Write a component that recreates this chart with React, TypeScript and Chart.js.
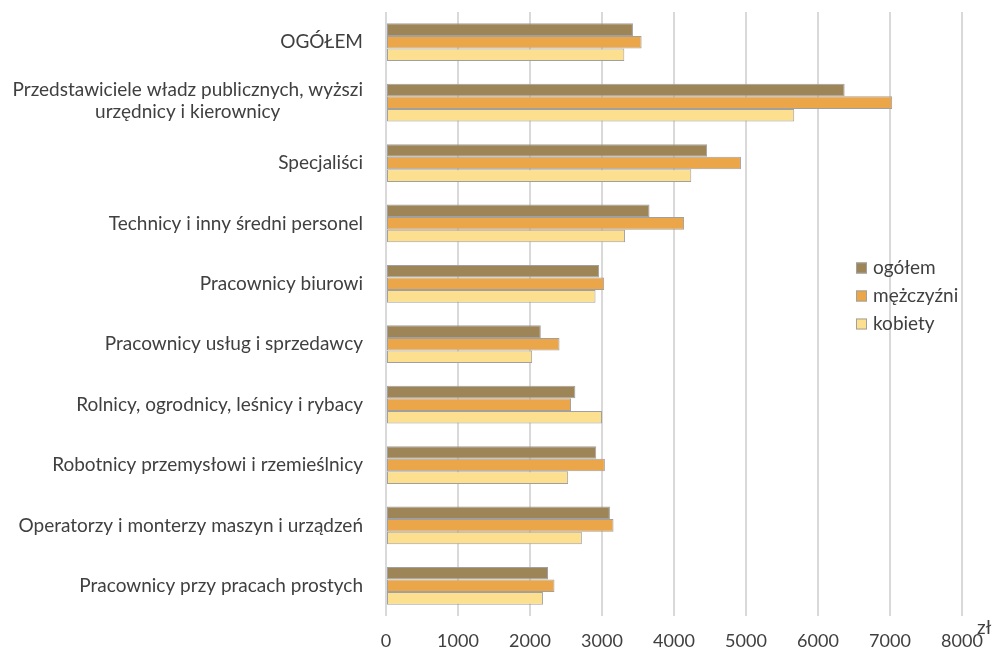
import React, { useEffect, useRef } from "react";
import { Chart, registerables } from "chart.js";

Chart.register(...registerables);

const categories: (string | string[])[] = [
  "OGÓŁEM",
  ["Przedstawiciele władz publicznych, wyższi", "urzędnicy i kierownicy"],
  "Specjaliści",
  "Technicy i inny średni personel",
  "Pracownicy biurowi",
  "Pracownicy usług i sprzedawcy",
  "Rolnicy, ogrodnicy, leśnicy i rybacy",
  "Robotnicy przemysłowi i rzemieślnicy",
  "Operatorzy i monterzy maszyn i urządzeń",
  "Pracownicy przy pracach prostych",
];

const seriesNames = ["ogółem", "mężczyźni", "kobiety"];
const ogolem = [3430, 6370, 4460, 3660, 2960, 2150, 2630, 2920, 3110, 2250];
const mezczyzni = [3550, 7030, 4930, 4140, 3030, 2410, 2570, 3040, 3160, 2340];
const kobiety = [3310, 5670, 4240, 3320, 2910, 2030, 3000, 2530, 2720, 2180];
const seriesColors = ["#9E8558", "#ECA64A", "#FDE08F"];
const xTicks = { min: 0, max: 8000, step: 1000 };
const unitLabel = "zł";

const FONT = "Lato, 'Open Sans', sans-serif";
const TEXT = "#404040";

export default function App() {
  const ref = useRef<HTMLCanvasElement | null>(null);

  useEffect(() => {
    if (!ref.current) return;

    const yLabels = {
      id: "yLabels",
      afterDraw(chart: any) {
        const ctx = chart.ctx;
        const ys = chart.scales.y;
        ctx.save();
        ctx.font = `19px ${FONT}`;
        ctx.fillStyle = TEXT;
        ctx.textAlign = "center";
        ctx.textBaseline = "middle";
        const right = chart.chartArea.left - 23;
        const lh = 22;
        categories.forEach((c, i) => {
          const lines = Array.isArray(c) ? c : [c];
          const w = Math.max(...lines.map((l) => ctx.measureText(l).width));
          const cx = right - w / 2;
          const py = ys.getPixelForValue(i);
          const y0 = py - ((lines.length - 1) * lh) / 2 - (lines.length > 1 ? 2 : 0);
          lines.forEach((l, k) => ctx.fillText(l, cx, y0 + k * lh));
        });
        // unit label
        ctx.textAlign = "left";
        ctx.fillText(unitLabel, chart.chartArea.right + 15, chart.chartArea.bottom + 12);
        // legend
        const lx = 856;
        const ly = [268, 296, 324];
        seriesNames.forEach((n, i) => {
          ctx.fillStyle = seriesColors[i];
          ctx.fillRect(lx, ly[i] - 5.5, 11, 11);
          ctx.strokeStyle = "#a0a0a0";
          ctx.lineWidth = 1;
          ctx.strokeRect(lx + 0.5, ly[i] - 5, 10, 10);
          ctx.fillStyle = TEXT;
          ctx.fillText(n, lx + 17, ly[i]);
        });
        ctx.restore();
      },
    };

    const chart = new Chart(ref.current, {
      type: "bar",
      data: {
        labels: categories.map((c) => (Array.isArray(c) ? c.join(" ") : c)),
        datasets: [ogolem, mezczyzni, kobiety].map((d, i) => ({
          label: seriesNames[i],
          data: d,
          backgroundColor: seriesColors[i],
          borderColor: "#a0a0a0",
          borderWidth: 1,
          borderSkipped: false,
          categoryPercentage: 0.625,
          barPercentage: 1,
        })),
      },
      options: {
        indexAxis: "y",
        responsive: false,
        animation: false,
        devicePixelRatio: 1,
        layout: { padding: { left: 386, right: 31, top: 12, bottom: 0 } },
        plugins: { legend: { display: false }, tooltip: { enabled: false } },
        scales: {
          y: { display: false },
          x: {
            min: xTicks.min,
            max: xTicks.max,
            ticks: {
              stepSize: xTicks.step,
              font: { family: FONT, size: 18 },
              color: TEXT,
              padding: 14,
              maxRotation: 0,
              callback: (v: any) => String(v),
            },
            grid: { color: "#d9d9d9", lineWidth: 2, drawTicks: false },
            border: { display: false },
            afterFit(scale: any) {
              scale.height = 35;
              scale.paddingLeft = 0;
              scale.paddingRight = 0;
            },
          },
        },
      },
      plugins: [yLabels],
    });
    return () => chart.destroy();
  }, []);

  return (
    <div style={{ position: "absolute", left: 0, top: 0, width: 993, height: 651, background: "#fff" }}>
      <canvas ref={ref} width={993} height={651} />
    </div>
  );
}
